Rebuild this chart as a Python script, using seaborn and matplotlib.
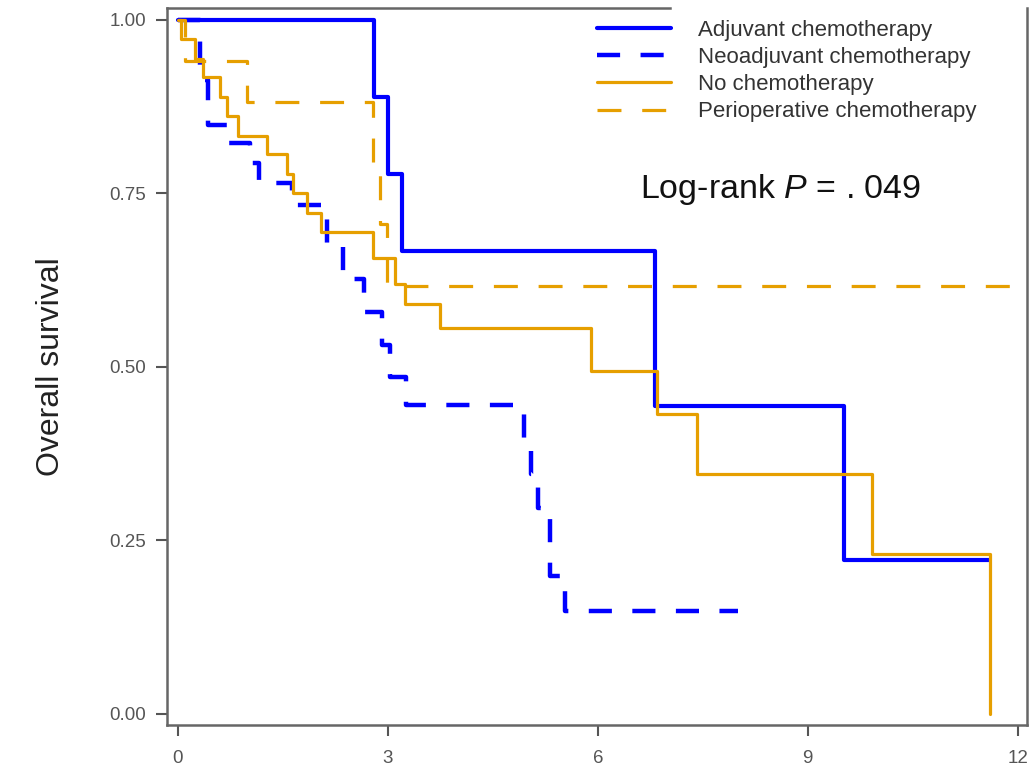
import matplotlib
matplotlib.use('Agg')
import matplotlib.pyplot as plt
import seaborn as sns

# Kaplan-Meier step data (time in years, survival)
adj_time = [0, 2.8, 3.0, 3.2, 6.82, 9.52, 11.6]
adj_surv = [1.0, 0.889, 0.778, 0.667, 0.444, 0.222, 0.222]

neo_time = [0, 0.31, 0.43, 0.7, 1.03, 1.16, 1.63, 2.13, 2.36, 2.66, 2.91, 3.03, 3.26,
            4.95, 5.05, 5.15, 5.31, 5.53, 8.0]
neo_surv = [1.0, 0.914, 0.849, 0.823, 0.794, 0.765, 0.733, 0.673, 0.627, 0.579, 0.532, 0.486, 0.445,
            0.396, 0.346, 0.297, 0.198, 0.148, 0.148]

none_time = [0, 0.05, 0.24, 0.36, 0.6, 0.7, 0.86, 1.27, 1.56, 1.65, 1.84, 2.05, 2.78, 3.1, 3.25,
             3.75, 5.9, 6.85, 7.42, 9.92, 11.6]
none_surv = [1.0, 0.972, 0.944, 0.917, 0.889, 0.861, 0.833, 0.806, 0.778, 0.75, 0.722, 0.694, 0.657,
             0.62, 0.59, 0.556, 0.494, 0.432, 0.345, 0.23, 0.0]

peri_time = [0, 0.1, 0.99, 2.79, 2.89, 2.99, 12.0]
peri_surv = [1.0, 0.941, 0.882, 0.794, 0.706, 0.617, 0.617]

labels = ['Adjuvant chemotherapy', 'Neoadjuvant chemotherapy',
          'No chemotherapy', 'Perioperative chemotherapy']
x_ticks = [0, 3, 6, 9, 12]
y_ticks = [0.0, 0.25, 0.5, 0.75, 1.0]

blue = '#0000FF'
orange = '#E69F00'

sns.set_style('ticks')
plt.rcParams['font.family'] = ['Liberation Sans', 'DejaVu Sans']
plt.rcParams['mathtext.fontset'] = 'custom'
plt.rcParams['mathtext.it'] = 'Liberation Sans:italic'
plt.rcParams['mathtext.rm'] = 'Liberation Sans'

fig = plt.figure(figsize=(10.34, 7.72), dpi=100)
ax = fig.add_axes([0.1615, 0.061, 0.8315, 0.9286])

sns.lineplot(x=adj_time, y=adj_surv, ax=ax, color=blue, linewidth=3.0,
             drawstyle='steps-post', estimator=None, sort=False, label=labels[0])
sns.lineplot(x=neo_time, y=neo_surv, ax=ax, color=blue, linewidth=3.2,
             linestyle=(0, (5.2, 4.6)), drawstyle='steps-post', estimator=None, sort=False,
             label=labels[1])
sns.lineplot(x=none_time, y=none_surv, ax=ax, color=orange, linewidth=2.3,
             drawstyle='steps-post', estimator=None, sort=False, label=labels[2])
sns.lineplot(x=peri_time, y=peri_surv, ax=ax, color=orange, linewidth=2.3,
             linestyle=(0, (7.5, 6.5)), drawstyle='steps-post', estimator=None, sort=False,
             label=labels[3])

xmin, xmax = -0.157, 12.13
ax.set_xlim(xmin, xmax)
ax.set_ylim(-0.016, 1.017)
ax.set_xticks(x_ticks)
ax.set_yticks(y_ticks)
ax.set_yticklabels([f'{v:.2f}' for v in y_ticks])
ax.tick_params(axis='both', length=8, width=1.5, color='#555555', labelsize=13.5,
               labelcolor='#555555')
ax.tick_params(axis='x', pad=10)
ax.tick_params(axis='y', pad=7)
ax.set_xlabel('')
ax.set_ylabel('Overall survival', fontsize=23, color='#222222', labelpad=31)

for side in ['left', 'right', 'top', 'bottom']:
    ax.spines[side].set_color('#666666')
    ax.spines[side].set_linewidth(1.8)
# top border is hidden behind the legend box in the reference
ax.spines['top'].set_bounds(xmin, 7.03)

leg = ax.legend(loc='upper left', bbox_to_anchor=(0.49, 0.996), frameon=False,
                fontsize=16, handlelength=3.3, handletextpad=1.25, labelspacing=0.28,
                borderaxespad=0.0)
for t in leg.get_texts():
    t.set_color('#333333')

ax.text(6.6, 0.755, 'Log-rank $P$ = . 049', fontsize=24.5, color='#111111',
        ha='left', va='center')

fig.savefig('out.png', dpi=100)
